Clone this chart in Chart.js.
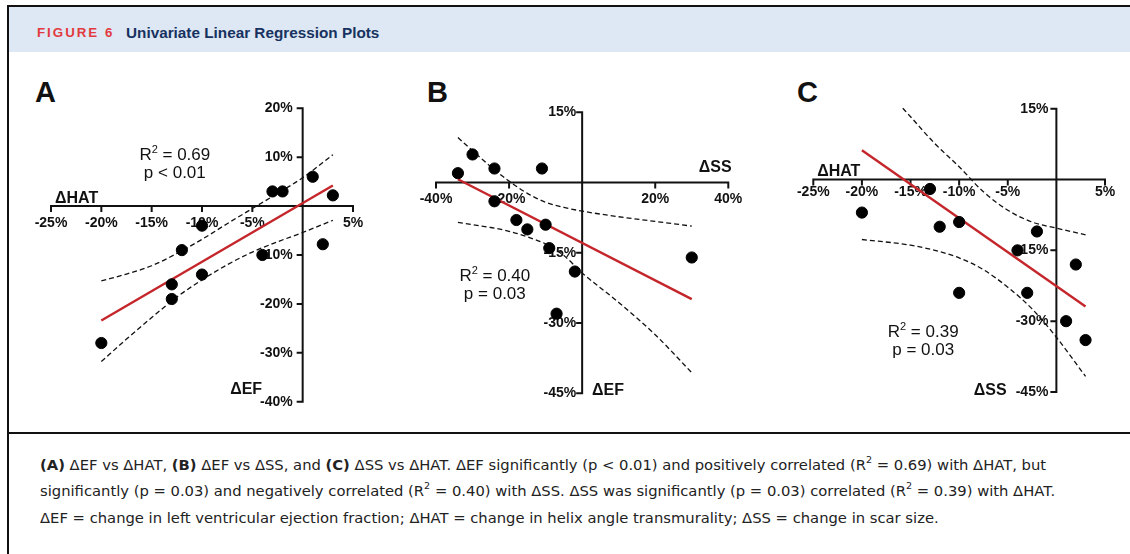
<!DOCTYPE html>
<html>
<head>
<meta charset="utf-8">
<script src="https://cdn.jsdelivr.net/npm/chart.js@4.4.1/dist/chart.umd.min.js"></script>
<style>
  body { margin: 0; background: #fff; }
  #fig { position: relative; width: 1130px; height: 554px; overflow: hidden; font-family: "Liberation Sans", Arial, sans-serif; }
  .line { position: absolute; background: #111; }
  .head { position: absolute; left: 9px; top: 7px; width: 1121px; height: 45px; background: #dde8f4; }
  .head span { position: absolute; top: 3px; line-height: 45px; font-weight: bold; white-space: nowrap; }
  .fig-no { left: 28px; color: #e23a3f; font-size: 13.3px; letter-spacing: 2px; }
  .fig-title { left: 117px; color: #17325f; font-size: 15.3px; }
  .letter { position: absolute; font-weight: bold; font-size: 29px; line-height: 29px; color: #111; }
  canvas { position: absolute; }
  .caption { position: absolute; left: 40px; top: 452px; font-family: "DejaVu Sans", sans-serif; font-size: 14.75px; line-height: 26.3px; color: #222; white-space: nowrap; }
  .caption sup { font-size: 0.65em; line-height: 0; position: relative; top: -0.15em; }
</style>
</head>
<body>
<div id="fig">
  <div class="line" style="left:7px;top:5px;width:1123px;height:2px"></div>
  <div class="line" style="left:7px;top:5px;width:2px;height:549px"></div>
  <div class="head"><span class="fig-no">FIGURE 6</span><span class="fig-title">Univariate Linear Regression Plots</span></div>
  <div class="line" style="left:9px;top:432px;width:1121px;height:2px"></div>

  <div class="letter" style="left:35px;top:78px">A</div>
  <div class="letter" style="left:427px;top:78px">B</div>
  <div class="letter" style="left:797px;top:78px">C</div>

  <canvas id="chartA" width="370" height="365" style="left:10px;top:60px"></canvas>
  <canvas id="chartB" width="370" height="365" style="left:390px;top:60px"></canvas>
  <canvas id="chartC" width="360" height="365" style="left:770px;top:60px"></canvas>

  <div class="caption">
    <b>(A)</b> ΔEF vs ΔHAT, <b>(B)</b> ΔEF vs ΔSS, and <b>(C)</b> ΔSS vs ΔHAT. ΔEF significantly (p &lt; 0.01) and positively correlated (R<sup>2</sup> = 0.69) with ΔHAT, but<br>
    significantly (p = 0.03) and negatively correlated (R<sup>2</sup> = 0.40) with ΔSS. ΔSS was significantly (p = 0.03) correlated (R<sup>2</sup> = 0.39) with ΔHAT.<br>
    ΔEF = change in left ventricular ejection fraction; ΔHAT = change in helix angle transmurality; ΔSS = change in scar size.
  </div>
</div>

<script>
// --- A: dEF vs dHAT
const aHat = [-20, -13, -13, -12, -10, -10, -4, -3, -2, 1, 3, 2];
const aEf  = [-28, -16, -19, -9, -4, -14, -10, 3, 3, 6, 2.2, -7.8];
const aFitHat = [-20, 3];
const aFitEf  = [-23.4, 4.2];
const aBandHat = [-20, -17.5, -15, -12.5, -10, -7.5, -5, -2.5, 0, 3];
const aUpperEf = [-15.3, -13.9, -12.2, -9.7, -6.8, -3.6, -0.5, 2.6, 5.8, 10.5];
const aLowerEf = [-31.8, -27.2, -22.8, -18.6, -15.1, -12.0, -9.4, -7.3, -5.4, -2.9];
const aXTicks = [-25, -20, -15, -10, -5, 5];
const aYTicks = [20, 10, -10, -20, -30, -40];

// --- B: dEF vs dSS
const bSs = [-34, -30, -24, -11, -24, -18, -15, -10, -9, -2, -7, 30];
const bEf = [2, 6, 3, 3, -4, -8, -10, -9, -14, -19, -28, -16];
const bFitSs = [-34, 30];
const bFitEf = [0.7, -24.9];
const bBandSs  = [-34, -30, -25, -20, -15, -10, -5, 0, 10, 20, 30];
const bUpperEf = [9.6, 6.8, 3.4, 0.3, -2.3, -4.2, -5.3, -6.1, -7.3, -8.3, -9.3];
const bLowerEf = [-8.5, -9.0, -9.6, -10.4, -11.6, -13.1, -15.6, -19.3, -25.6, -32.5, -40.6];
const bXTicks = [-40, -20, 20, 40];
const bYTicks = [15, -15, -30, -45];

// --- C: dSS vs dHAT
const cHat = [-20, -13, -12, -10, -10, -4, -3, -2, 2, 1, 3];
const cSs  = [-7, -2, -10, -9, -24, -15, -24, -11, -18, -30, -34];
const cFitHat = [-20, 3];
const cFitSs  = [6.2, -26.9];
const cUpperHat = [-15.8, -15, -12.5, -10, -7.5, -5, -2.5, 0, 3];
const cUpperSs  = [15.1, 13.3, 7.6, 2.7, -2.6, -6.5, -9.0, -10.3, -11.7];
const cLowerHat = [-20, -15, -12.5, -10, -7.5, -5, -2.5, 0, 3];
const cLowerSs  = [-12.7, -13.9, -15.0, -16.6, -19.1, -22.8, -27.4, -33.4, -41.7];
const cXTicks = [-25, -20, -15, -10, -5, 5];
const cYTicks = [15, -15, -30, -45];

const RED = '#c4262b';
const toXY = (xs, ys) => xs.map((x, i) => ({ x: x, y: ys[i] }));

// axes crossing at 0, tick labels, axis names and the R2 / p note
function crossAxes(o) {
  return {
    id: 'crossAxes',
    beforeDatasetsDraw(chart) {
      const { ctx, scales: { x, y } } = chart;
      const x0 = x.getPixelForValue(0), y0 = y.getPixelForValue(0);
      ctx.save();
      ctx.strokeStyle = '#111';
      ctx.lineWidth = 2;
      ctx.lineCap = 'square';
      ctx.beginPath();
      ctx.moveTo(x.left, y0); ctx.lineTo(x.right, y0);
      ctx.moveTo(x0, y.top); ctx.lineTo(x0, y.bottom);
      o.xTicks.forEach(v => { const px = x.getPixelForValue(v); ctx.moveTo(px, y0); ctx.lineTo(px, y0 + 5); });
      o.yTicks.forEach(v => { const py = y.getPixelForValue(v); ctx.moveTo(x0, py); ctx.lineTo(x0 - 5, py); });
      ctx.stroke();

      ctx.fillStyle = '#111';
      ctx.font = 'bold 14px "Liberation Sans", Arial';
      ctx.textAlign = 'center';
      ctx.textBaseline = 'middle';
      o.xTicks.forEach(v => ctx.fillText(v + '%', x.getPixelForValue(v), y0 + o.xGap));
      ctx.textAlign = 'right';
      o.yTicks.forEach(v => ctx.fillText(v + '%', x0 - o.yGap, y.getPixelForValue(v)));

      ctx.font = 'bold 16px "Liberation Sans", Arial';
      ctx.textAlign = 'left';
      ctx.textBaseline = 'alphabetic';
      ctx.fillText(o.xName[0], x.getPixelForValue(o.xName[1]), y.getPixelForValue(o.xName[2]));
      ctx.fillText(o.yName[0], x.getPixelForValue(o.yName[1]), y.getPixelForValue(o.yName[2]));

      // R² line with a raised 2
      const cx = x.getPixelForValue(o.note[0]), by = y.getPixelForValue(o.note[1]);
      const big = '17px "Liberation Sans", Arial', small = '11px "Liberation Sans", Arial';
      ctx.font = big;
      const wR = ctx.measureText('R').width, rest = ' = ' + o.r2, wRest = ctx.measureText(rest).width;
      ctx.font = small;
      const w2 = ctx.measureText('2').width;
      let sx = cx - (wR + w2 + wRest) / 2;
      ctx.font = big; ctx.fillText('R', sx, by);
      ctx.font = small; ctx.fillText('2', sx + wR, by - 7);
      ctx.font = big; ctx.fillText(rest, sx + wR + w2, by);
      ctx.textAlign = 'center';
      ctx.fillText(o.p, cx, by + 18);
      ctx.restore();
    }
  };
}

function makeChart(id, pts, fit, upper, lower, xr, yr, pad, axes) {
  return new Chart(document.getElementById(id), {
    type: 'scatter',
    data: {
      datasets: [
        { data: pts, backgroundColor: '#000', borderColor: '#000', pointRadius: 5.6, clip: false },
        { data: fit, showLine: true, borderColor: RED, borderWidth: 2.4, pointRadius: 0, clip: false },
        { data: upper, showLine: true, borderColor: '#111', borderWidth: 1.3, borderDash: [5, 3], pointRadius: 0, cubicInterpolationMode: 'monotone', clip: false },
        { data: lower, showLine: true, borderColor: '#111', borderWidth: 1.3, borderDash: [5, 3], pointRadius: 0, cubicInterpolationMode: 'monotone', clip: false }
      ]
    },
    options: {
      responsive: false,
      animation: false,
      layout: { padding: pad },
      plugins: { legend: { display: false }, tooltip: { enabled: false } },
      scales: {
        x: { type: 'linear', display: false, min: xr[0], max: xr[1] },
        y: { type: 'linear', display: false, min: yr[0], max: yr[1] }
      }
    },
    plugins: [crossAxes(axes)]
  });
}

makeChart('chartA', toXY(aHat, aEf), toXY(aFitHat, aFitEf), toXY(aBandHat, aUpperEf), toXY(aBandHat, aLowerEf),
  [-25, 5], [-40, 20], { left: 41, right: 27, top: 48.3, bottom: 23.3 },
  { xTicks: aXTicks, yTicks: aYTicks, xGap: 17, yGap: 10, xName: ['ΔHAT', -24.6, 0.6], yName: ['ΔEF', -7.2, -38.4],
    note: [-12.7, 9.4], r2: '0.69', p: 'p < 0.01' });

makeChart('chartB', toXY(bSs, bEf), toXY(bFitSs, bFitEf), toXY(bBandSs, bUpperEf), toXY(bBandSs, bLowerEf),
  [-40, 40], [-45, 15], { left: 46, right: 31.7, top: 52.3, bottom: 31.7 },
  { xTicks: bXTicks, yTicks: bYTicks, xGap: 17, yGap: 6, xName: ['ΔSS', 31.9, 2.2], yName: ['ΔEF', 2.7, -45.3],
    note: [-23.9, -21.0], r2: '0.40', p: 'p = 0.03' });

makeChart('chartC', toXY(cHat, cSs), toXY(cFitHat, cFitSs), toXY(cUpperHat, cUpperSs), toXY(cLowerHat, cLowerSs),
  [-25, 5], [-45, 15], { left: 43.3, right: 25, top: 48.7, bottom: 33 },
  { xTicks: cXTicks, yTicks: cYTicks, xGap: 13, yGap: 8, xName: ['ΔHAT', -24.6, 0.7], yName: ['ΔSS', -8.5, -45.6],
    note: [-13.7, -33.4], r2: '0.39', p: 'p = 0.03' });
</script>
</body>
</html>
